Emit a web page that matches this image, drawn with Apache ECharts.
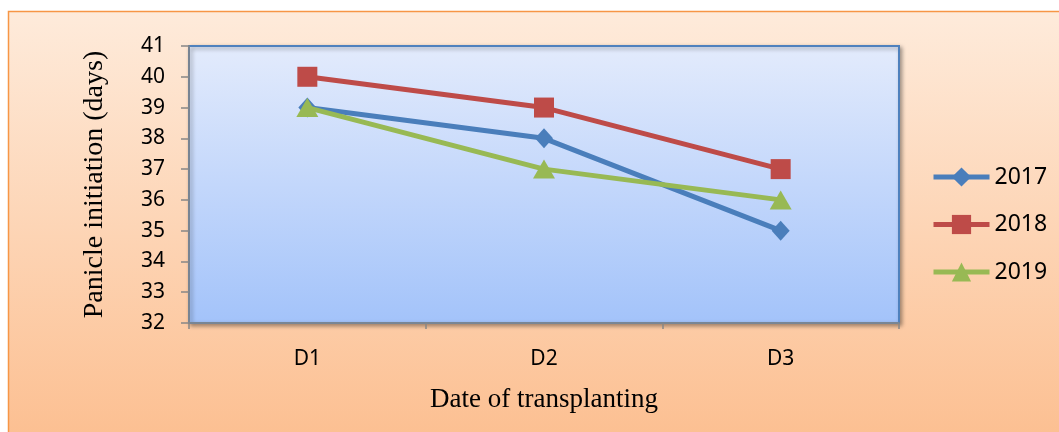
<!DOCTYPE html>
<html>
<head>
<meta charset="utf-8">
<script src="https://cdn.jsdelivr.net/npm/echarts@6/dist/echarts.min.js"></script>
<style>
  html, body { margin: 0; padding: 0; background: #fff; }
  #chart { width: 1059px; height: 432px; }
</style>
</head>
<body>
<div id="chart"></div>
<script>
// data
var dates = ['D1', 'D2', 'D3'];
var years = ['2017', '2018', '2019'];
var y2017 = [39, 38, 35];
var y2018 = [40, 39, 37];
var y2019 = [39, 37, 36];

var colors = ['#4A7EBB', '#BE4B48', '#98B954'];
var symbols = ['diamond', 'rect', 'triangle'];
var sizes = [[18, 20], [20, 20], [22, 19]];

var chart = echarts.init(document.getElementById('chart'));

var mkSeries = function (i, data) {
  return {
    name: years[i],
    type: 'line',
    data: data,
    symbol: symbols[i],
    symbolSize: sizes[i],
    lineStyle: { width: 5, color: colors[i] },
    itemStyle: { color: colors[i] },
    z: 3 + i
  };
};

var option = {
  animation: false,
  textStyle: { fontFamily: 'Noto Sans' },
  graphic: [{
    type: 'rect',
    z: -10,
    shape: { x: 8.5, y: 11.5, width: 1060, height: 440 },
    style: {
      fill: new echarts.graphic.LinearGradient(0, 0, 0, 1, [
        { offset: 0, color: '#FEEBDB' },
        { offset: 1, color: '#FCBE8F' }
      ]),
      stroke: '#F79646',
      lineWidth: 1.5
    }
  }],
  grid: {
    left: 189, top: 46, right: 160, bottom: 109,
    show: true,
    borderColor: '#4F81BD',
    borderWidth: 2,
    backgroundColor: new echarts.graphic.LinearGradient(0, 0, 0, 1, [
      { offset: 0, color: '#E3EBFC' },
      { offset: 1, color: '#A3C3FA' }
    ]),
    shadowColor: 'rgba(0,0,0,0.35)',
    shadowBlur: 4,
    shadowOffsetX: 2,
    shadowOffsetY: 2
  },
  legend: {
    orient: 'vertical',
    left: 931,
    top: 165,
    padding: 0,
    itemWidth: 56,
    itemHeight: 24,
    itemGap: 23.5,
    data: years,
    lineStyle: { width: 5 },
    textStyle: { fontSize: 23, lineHeight: 24, color: '#000' }
  },
  xAxis: {
    type: 'category',
    data: dates,
    boundaryGap: true,
    name: 'Date of transplanting',
    nameLocation: 'middle',
    nameGap: 63,
    nameTextStyle: { fontFamily: 'Liberation Serif', fontSize: 27, color: '#000' },
    axisLine: { lineStyle: { color: '#868686', width: 1.5 } },
    axisTick: { show: true, length: 6, lineStyle: { color: '#868686', width: 1.5 } },
    axisLabel: { fontSize: 21, color: '#000', margin: 26 },
    splitLine: { show: false }
  },
  yAxis: {
    type: 'value',
    min: 32,
    max: 41,
    interval: 1,
    name: 'Panicle initiation (days)',
    nameLocation: 'middle',
    nameGap: 80,
    nameRotate: 90,
    nameTextStyle: { fontFamily: 'Liberation Serif', fontSize: 28, color: '#000' },
    axisLine: { show: true, lineStyle: { color: '#868686', width: 1.5 } },
    axisTick: { show: true, length: 8, lineStyle: { color: '#868686', width: 1.5 } },
    axisLabel: { fontSize: 21, color: '#000', margin: 24 },
    splitLine: { show: false }
  },
  series: [
    mkSeries(0, y2017),
    mkSeries(1, y2018),
    mkSeries(2, y2019)
  ]
};

chart.setOption(option);
</script>
</body>
</html>
